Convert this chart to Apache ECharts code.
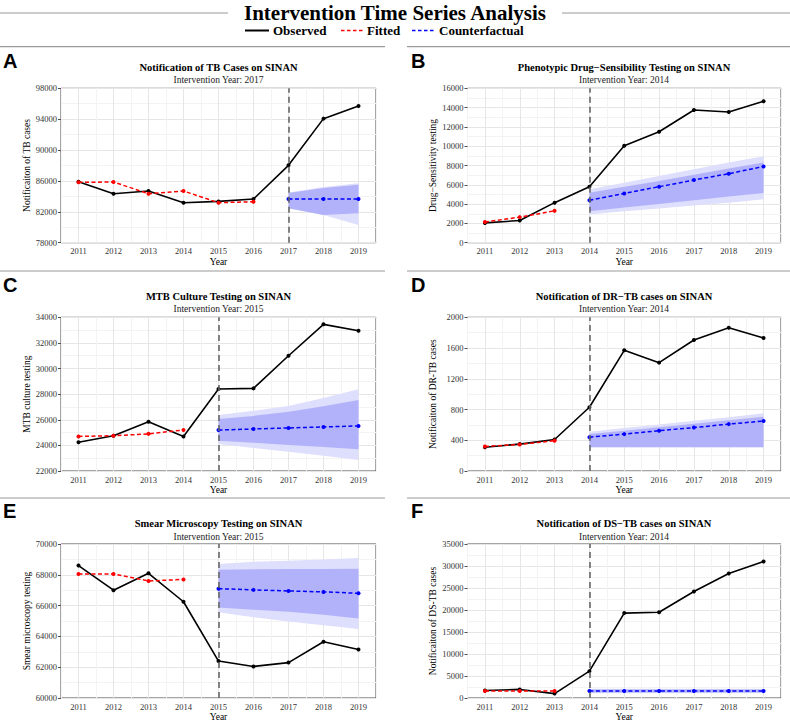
<!DOCTYPE html>
<html><head><meta charset="utf-8">
<script src="https://cdn.jsdelivr.net/npm/echarts@6/dist/echarts.min.js"></script>
<style>html,body{margin:0;padding:0;background:#fff}#c{width:790px;height:723px}</style>
</head><body><div id="c"></div>
<script>
// ---------- DATA ----------
const years = [2011, 2012, 2013, 2014, 2015, 2016, 2017, 2018, 2019];

// A: Notification of TB cases
const obsA = [85900, 84350, 84700, 83180, 83350, 83660, 88020, 94070, 95710];
const fitA = [85820, 85860, 84350, 84700, 83180, 83310];
const cfA = [83660, 83660, 83660];
const lo80A = [82450, 81600, 81800];
const hi80A = [84450, 85100, 85500];
const lo95A = [82450, 81600, 80300];
const hi95A = [84500, 85200, 85700];

// B: Phenotypic drug-sensibility testing
const obsB = [2050, 2300, 4150, 5800, 10050, 11500, 13750, 13550, 14650];
const fitB = [2150, 2650, 3300];
const cfB = [4400, 5100, 5800, 6500, 7150, 7900];
const lo80B = [3270, 3650, 4000, 4400, 4800, 5150];
const hi80B = [5180, 5800, 6400, 7050, 7700, 8300];
const lo95B = [2920, 3250, 3550, 3850, 4150, 4500];
const hi95B = [5530, 6200, 6900, 7600, 8300, 8950];

// C: MTB culture testing
const obsC = [24250, 24750, 25850, 24700, 28400, 28450, 31000, 33450, 32950];
const fitC = [24700, 24750, 24900, 25200];
const cfC = [25200, 25280, 25360, 25440, 25520];
const lo80C = [24370, 24200, 24030, 23870, 23690];
const hi80C = [26060, 26300, 26630, 27050, 27550];
const lo95C = [24110, 23800, 23510, 23200, 22860];
const hi95C = [26370, 26700, 27080, 27700, 28380];

// D: Notification of DR-TB cases
const obsD = [310, 350, 410, 830, 1570, 1410, 1705, 1865, 1730];
const fitD = [320, 345, 395];
const cfD = [440, 480, 525, 565, 610, 650];
const lo80D = [310, 310, 310, 310, 310, 310];
const hi80D = [480, 525, 570, 615, 660, 705];
const lo95D = [310, 310, 310, 310, 310, 310];
const hi95D = [510, 560, 605, 655, 700, 750];

// E: Smear microscopy testing
const obsE = [68600, 67000, 68100, 66250, 62400, 62050, 62300, 63650, 63150];
const fitE = [68050, 68050, 67600, 67700];
const cfE = [67100, 67020, 66950, 66890, 66800];
const lo80E = [65870, 65730, 65600, 65400, 65170];
const hi80E = [68330, 68360, 68370, 68380, 68390];
const lo95E = [65570, 65250, 64960, 64720, 64480];
const hi95E = [68700, 68850, 68920, 69000, 69090];

// F: Notification of DS-TB cases
const obsF = [1700, 1950, 1000, 6100, 19300, 19500, 24200, 28300, 31000];
const fitF = [1600, 1600, 1600];
const cfF = [1600, 1600, 1600, 1600, 1600, 1600];
const lo80F = [1250, 1250, 1250, 1250, 1250, 1250];
const hi80F = [1950, 1950, 1950, 1950, 1950, 1950];
const lo95F = [1100, 1100, 1100, 1100, 1100, 1100];
const hi95F = [2100, 2100, 2100, 2100, 2100, 2100];

const interventionYears = [2017, 2014, 2015, 2014, 2015, 2014];
const panelLetters = ['A', 'B', 'C', 'D', 'E', 'F'];
const panelTitles = [
  'Notification of TB Cases on SINAN',
  'Phenotypic Drug\u2212Sensibility Testing on SINAN',
  'MTB Culture Testing on SINAN',
  'Notification of DR\u2212TB cases on SINAN',
  'Smear Microscopy Testing on SINAN',
  'Notification of DS\u2212TB cases on SINAN'
];
const yNames = [
  'Notificaiton of TB cases',
  'Drug\u2212Sensitivity testing',
  'MTB culture testing',
  'Notificaiton of DR-TB cases',
  'Smear microscopy testing',
  'Notificaiton of DS-TB cases'
];
const yMins = [78000, 0, 22000, 0, 60000, 0];
const yMaxs = [98000, 16000, 34000, 2000, 70000, 35000];
const ySteps = [4000, 2000, 2000, 400, 2000, 5000];
const legendNames = ['Observed', 'Fitted', 'Counterfactual'];
const mainTitle = 'Intervention Time Series Analysis';

const seriesData = [
  {obs: obsA, fit: fitA, cf: cfA, lo80: lo80A, hi80: hi80A, lo95: lo95A, hi95: hi95A},
  {obs: obsB, fit: fitB, cf: cfB, lo80: lo80B, hi80: hi80B, lo95: lo95B, hi95: hi95B},
  {obs: obsC, fit: fitC, cf: cfC, lo80: lo80C, hi80: hi80C, lo95: lo95C, hi95: hi95C},
  {obs: obsD, fit: fitD, cf: cfD, lo80: lo80D, hi80: hi80D, lo95: lo95D, hi95: hi95D},
  {obs: obsE, fit: fitE, cf: cfE, lo80: lo80E, hi80: hi80E, lo95: lo95E, hi95: hi95E},
  {obs: obsF, fit: fitF, cf: cfF, lo80: lo80F, hi80: hi80F, lo95: lo95F, hi95: hi95F}
];

// ---------- LAYOUT / STYLE ----------
const layout = [
  {left: 61,    top: 88.3,  width: 315,   height: 154.4, nameGap: 28,   lx: 3,   ly: 61,  tx: 218.5, ty: 67.7, sy: 80,    sep: 46.7},
  {left: 467.5, top: 88.3,  width: 313.5, height: 154.4, nameGap: 29.5, lx: 411, ly: 61,  tx: 624,   ty: 67.7, sy: 80,    sep: 46.7},
  {left: 61,    top: 317.3, width: 315,   height: 153.7, nameGap: 28,   lx: 3,   ly: 285, tx: 218.5, ty: 296.7, sy: 309, sep: 271},
  {left: 467.5, top: 317.3, width: 313.5, height: 153.7, nameGap: 29.5, lx: 411, ly: 285, tx: 624,   ty: 296.7, sy: 309, sep: 271},
  {left: 61,    top: 544,   width: 315,   height: 154,   nameGap: 28,   lx: 3,   ly: 511, tx: 218.5, ty: 523,  sy: 537,  sep: 498},
  {left: 467.5, top: 544,   width: 313.5, height: 154,   nameGap: 29.5, lx: 411, ly: 511, tx: 624,   ty: 523,  sy: 537,  sep: 498}
];
const SERIF = '"Liberation Serif","Times New Roman",Times,serif';
const SANS = '"Liberation Sans",Arial,Helvetica,sans-serif';
const MAJOR = '#e6e6e6', MINOR = '#f3f3f3';
const LIGHT = '#dedefd', DARK = '#b2b2fa';
const RED = '#ff0000', BLUE = '#0000ff';

const grids = [], xAxes = [], yAxes = [], series = [], graphics = [];

function bandSeries(i, xs, lo, hi, color, z) {
  return {
    type: 'custom', xAxisIndex: i, yAxisIndex: i, silent: true, z: z,
    data: xs.map((x, k) => [x, lo[k], hi[k]]),
    encode: {x: 0, y: [1, 2]},
    renderItem: function (params, api) {
      if (params.dataIndex !== 0) return null;
      const up = xs.map((x, k) => api.coord([x, hi[k]]));
      const dn = xs.map((x, k) => api.coord([x, lo[k]])).reverse();
      return {type: 'polygon', shape: {points: up.concat(dn)}, style: {fill: color, stroke: null}};
    }
  };
}

seriesData.forEach((d, i) => {
  const L = layout[i];
  const iv = interventionYears[i];
  const cfYears = years.filter(y => y >= iv);
  const fitYears = years.slice(0, d.fit.length);
  grids.push({left: L.left, top: L.top, width: L.width, height: L.height, show: true,
    borderColor: '#4d4d4d', borderWidth: 1, backgroundColor: 'transparent', containLabel: false, outerBoundsMode: 'none'});
  xAxes.push({
    type: 'value', gridIndex: i, min: 2010.5, max: 2019.5, interval: 0.5,
    name: 'Year', nameLocation: 'middle', nameGap: 14,
    nameTextStyle: {fontFamily: SERIF, fontSize: 9.5, color: '#000'},
    axisLine: {show: false}, axisTick: {show: false},
    axisLabel: {fontFamily: SERIF, fontSize: 8.5, color: '#333', margin: 4, hideOverlap: false,
      formatter: v => Math.abs(v - Math.round(v)) < 1e-6 ? String(Math.round(v)) : ''},
    splitLine: {show: true, lineStyle: {color: [MINOR, MAJOR], width: 1}}
  });
  yAxes.push({
    type: 'value', gridIndex: i, min: yMins[i], max: yMaxs[i], interval: ySteps[i],
    name: yNames[i], nameLocation: 'middle', nameGap: L.nameGap, nameRotate: 90,
    nameTextStyle: {fontFamily: SERIF, fontSize: 9.5, color: '#000'},
    axisLine: {show: false},
    axisTick: {show: true, length: 3, lineStyle: {color: '#4d4d4d', width: 1}},
    axisLabel: {fontFamily: SERIF, fontSize: 8.5, color: '#333', margin: 4, formatter: v => String(v)},
    splitLine: {show: true, lineStyle: {color: MAJOR, width: 1}},
    minorTick: {show: false, splitNumber: 2},
    minorSplitLine: {show: true, lineStyle: {color: MINOR, width: 1}}
  });
  series.push(bandSeries(i, cfYears, d.lo95, d.hi95, LIGHT, 1));
  series.push(bandSeries(i, cfYears, d.lo80, d.hi80, DARK, 1));
  series.push({
    type: 'line', name: legendNames[0], xAxisIndex: i, yAxisIndex: i, z: 3,
    data: years.map((y, k) => [y, d.obs[k]]),
    symbol: 'circle', symbolSize: 4, showSymbol: true,
    itemStyle: {color: '#000'}, lineStyle: {color: '#000', width: 1.6},
    markLine: {silent: true, symbol: ['none', 'none'], label: {show: false},
      lineStyle: {color: '#666', width: 1.6, type: [6, 4]}, data: [{xAxis: iv}]}
  });
  series.push({
    type: 'line', name: legendNames[1], xAxisIndex: i, yAxisIndex: i, z: 4,
    data: fitYears.map((y, k) => [y, d.fit[k]]),
    symbol: 'circle', symbolSize: 4, showSymbol: true,
    itemStyle: {color: RED}, lineStyle: {color: RED, width: 1.5, type: [4, 2.5]}
  });
  series.push({
    type: 'line', name: legendNames[2], xAxisIndex: i, yAxisIndex: i, z: 4,
    data: cfYears.map((y, k) => [y, d.cf[k]]),
    symbol: 'circle', symbolSize: 4, showSymbol: true,
    itemStyle: {color: BLUE}, lineStyle: {color: BLUE, width: 1.5, type: [4, 2.5]}
  });

  // texts
  graphics.push({type: 'text', x: L.lx, y: L.ly, style: {text: panelLetters[i], font: 'bold 20px ' + SANS, fill: '#000', textAlign: 'left', textVerticalAlign: 'middle'}});
  graphics.push({type: 'text', x: L.tx, y: L.ty, style: {text: panelTitles[i], font: 'bold 10.5px ' + SERIF, fill: '#000', textAlign: 'center', textVerticalAlign: 'middle'}});
  graphics.push({type: 'text', x: L.tx, y: L.sy, style: {text: 'Intervention Year: ' + iv, font: '9.5px ' + SERIF, fill: '#222', textAlign: 'center', textVerticalAlign: 'middle'}});
  // separators
  if (i % 2 === 0) {
    graphics.push({type: 'line', shape: {x1: 0, y1: L.sep, x2: 385, y2: L.sep}, style: {stroke: '#9a9a9a', lineWidth: 1.2}});
  } else {
    graphics.push({type: 'line', shape: {x1: 407, y1: L.sep, x2: 790, y2: L.sep}, style: {stroke: '#9a9a9a', lineWidth: 1.2}});
  }
});

// main title and its rules
graphics.push({type: 'text', x: 395, y: 12.5, style: {text: mainTitle, font: 'bold 21px ' + SERIF, fill: '#000', textAlign: 'center', textVerticalAlign: 'middle'}});
graphics.push({type: 'line', shape: {x1: 0, y1: 13, x2: 228, y2: 13}, style: {stroke: '#9a9a9a', lineWidth: 1.2}});
graphics.push({type: 'line', shape: {x1: 562, y1: 13, x2: 790, y2: 13}, style: {stroke: '#9a9a9a', lineWidth: 1.2}});
// legend
const legY = 30.5;
graphics.push({type: 'line', shape: {x1: 245, y1: legY, x2: 269, y2: legY}, style: {stroke: '#000', lineWidth: 2}});
graphics.push({type: 'text', x: 273, y: legY, style: {text: legendNames[0], font: 'bold 13px ' + SERIF, fill: '#000', textAlign: 'left', textVerticalAlign: 'middle'}});
graphics.push({type: 'line', shape: {x1: 341, y1: legY, x2: 363, y2: legY}, style: {stroke: RED, lineWidth: 1.6, lineDash: [3.5, 2.5]}});
graphics.push({type: 'text', x: 367, y: legY, style: {text: legendNames[1], font: 'bold 13px ' + SERIF, fill: '#000', textAlign: 'left', textVerticalAlign: 'middle'}});
graphics.push({type: 'line', shape: {x1: 412, y1: legY, x2: 434, y2: legY}, style: {stroke: BLUE, lineWidth: 1.6, lineDash: [3.5, 2.5]}});
graphics.push({type: 'text', x: 439, y: legY, style: {text: legendNames[2], font: 'bold 13px ' + SERIF, fill: '#000', textAlign: 'left', textVerticalAlign: 'middle'}});

const chart = echarts.init(document.getElementById('c'), null, {renderer: 'svg', width: 790, height: 723});
chart.setOption({
  animation: false,
  backgroundColor: '#fff',
  grid: grids, xAxis: xAxes, yAxis: yAxes, series: series,
  graphic: {elements: graphics}
});
</script></body></html>
